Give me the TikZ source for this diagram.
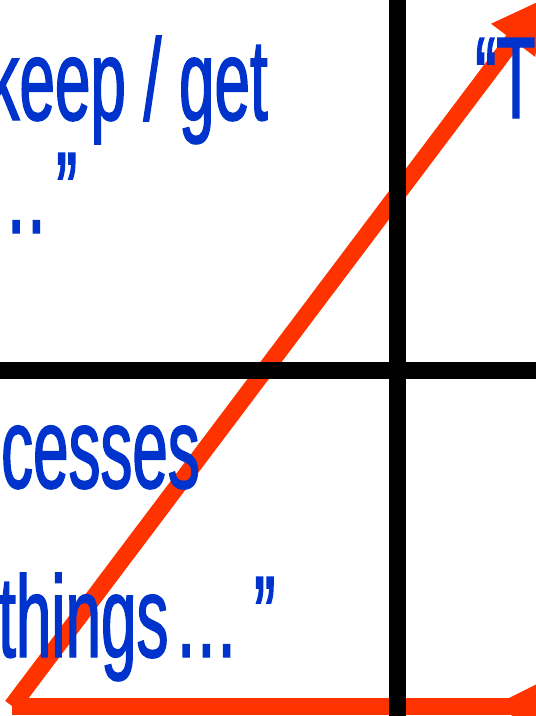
\documentclass[tikz,border=0pt]{standalone}
\usepackage{fontspec}
\setmainfont{Liberation Sans}
\newfontfamily\quotefont{Liberation Sans}[FakeStretch=0.55,FakeBold=1.2]
\usetikzlibrary{arrows.meta}
\definecolor{quoteblue}{RGB}{0,51,204}
\definecolor{arrowred}{RGB}{255,51,0}

\begin{document}
\begin{tikzpicture}[
        x=1pt,
        y=-1pt,
        quote text/.style={
            text=quoteblue,
            inner sep=0pt,
            font=\quotefont\fontsize{116}{116}\selectfont
        },
        grid rule/.style={
            draw=black,
            line width=17pt
        },
        trend arrow/.style={
            draw=arrowred,
            line width=17pt,
            line cap=butt
        }
    ]
        \useasboundingbox (0,0) rectangle (536,716);
        \clip (0,0) rectangle (536,716);

        \coordinate (origin) at (12,706);
        \coordinate (diagend) at (545,-2);
        \coordinate (baseend) at (597,706);
        \draw[trend arrow, -{Triangle[length=53pt,width=51pt]}] (origin) -- (diagend);
        \draw[trend arrow, -{Kite[length=104pt,width=51pt,inset=51pt]}] (origin) -- (baseend);

        \coordinate (ruletop) at (397.5,-20);
        \coordinate (rulebottom) at (397.5,740);
        \coordinate (ruleleft) at (-20,370.5);
        \coordinate (ruleright) at (560,370.5);
        \draw[grid rule] (ruletop) -- (rulebottom);
        \draw[grid rule] (ruleleft) -- (ruleright);

        \node[quote text, anchor=base east] (keepget) at (268,120) {keep / get};
        \node[quote text, anchor=base west] (dotsone) at (-16,233) {…\kern8pt”};
        \node[quote text, anchor=base west] (quotet) at (475,118) {“T};
        \node[quote text, anchor=base west] (cesses) at (1,488) {cesses};
        \node[quote text, anchor=base west] (things) at (-2,657) {things\kern6pt…\kern16pt”};
    \end{tikzpicture}
\end{document}
